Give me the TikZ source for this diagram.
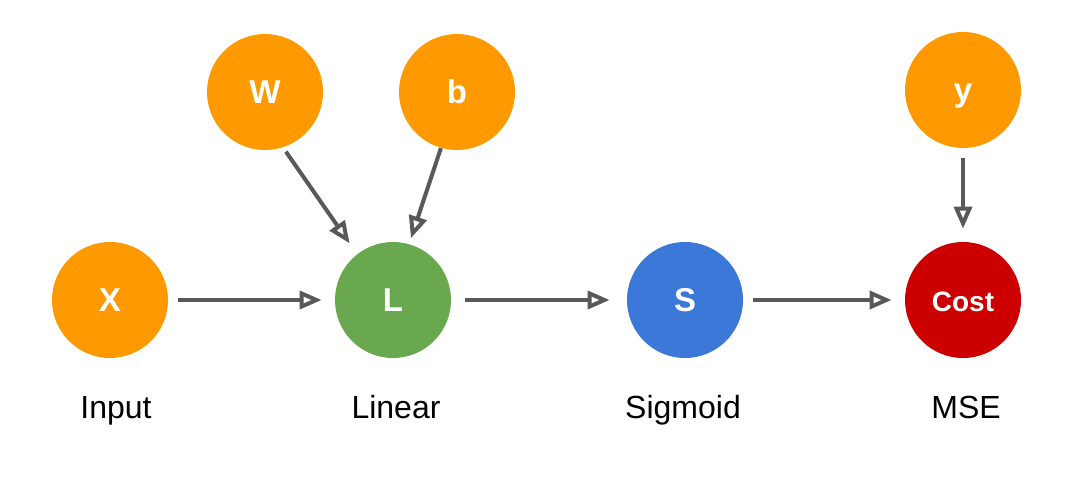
\documentclass[tikz,border=0pt]{standalone}
\usepackage{fontspec}
\setmainfont{Liberation Sans}
\usetikzlibrary{arrows.meta}
\definecolor{nodeorange}{HTML}{FF9900}
\definecolor{nodegreen}{HTML}{6AA84F}
\definecolor{nodeblue}{HTML}{3C78D8}
\definecolor{nodered}{HTML}{CC0000}
\definecolor{edgegray}{HTML}{595959}
\tikzset{
  unit/.style={circle,minimum size=58pt,inner sep=0pt,text=white,
    font=\fontsize{16.5}{18}\selectfont\bfseries,text height=11.5pt,text depth=0pt},
  caption/.style={anchor=base,font=\fontsize{16}{18}\selectfont},
  flow/.style={draw=edgegray,line width=2pt,
    -{Triangle[open,length=11pt,width=9pt]},shorten <=5pt,shorten >=6.5pt}
}
\begin{document}
\begin{tikzpicture}[x=0.5pt,y=-0.5pt]
\useasboundingbox[fill=white] (0,0) rectangle (1090,476);
\node[unit,fill=nodeorange] (X) at (110,300) {X};
\node[unit,fill=nodeorange] (W) at (265,92) {W};
\node[unit,fill=nodeorange] (b) at (457,92) {b};
\node[unit,fill=nodegreen] (L) at (393,300) {L};
\node[unit,fill=nodeblue] (S) at (685,300) {S};
\node[unit,fill=nodeorange] (y) at (963,90) {y};
\node[unit,fill=nodered,font=\fontsize{14}{16}\selectfont\bfseries] (Cost) at (963,300) {Cost};
\node[caption] (inputlabel) at (116,418) {Input};
\node[caption] (linearlabel) at (396,418) {Linear};
\node[caption] (sigmoidlabel) at (683,418) {Sigmoid};
\node[caption] (mselabel) at (966,418) {MSE};
\draw[flow] (X) -- (L);
\draw[flow,shorten <=2.5pt] (W.-72.4) -- (L.128.7);
\draw[flow,shorten <=0pt,shorten >=3pt] (b.-106.9) -- (L.74.7);
\draw[flow,shorten <=7pt,shorten >=8.5pt] (L) -- (S);
\draw[flow] (S) -- (Cost);
\draw[flow] (y) -- (Cost);
\end{tikzpicture}
\end{document}
